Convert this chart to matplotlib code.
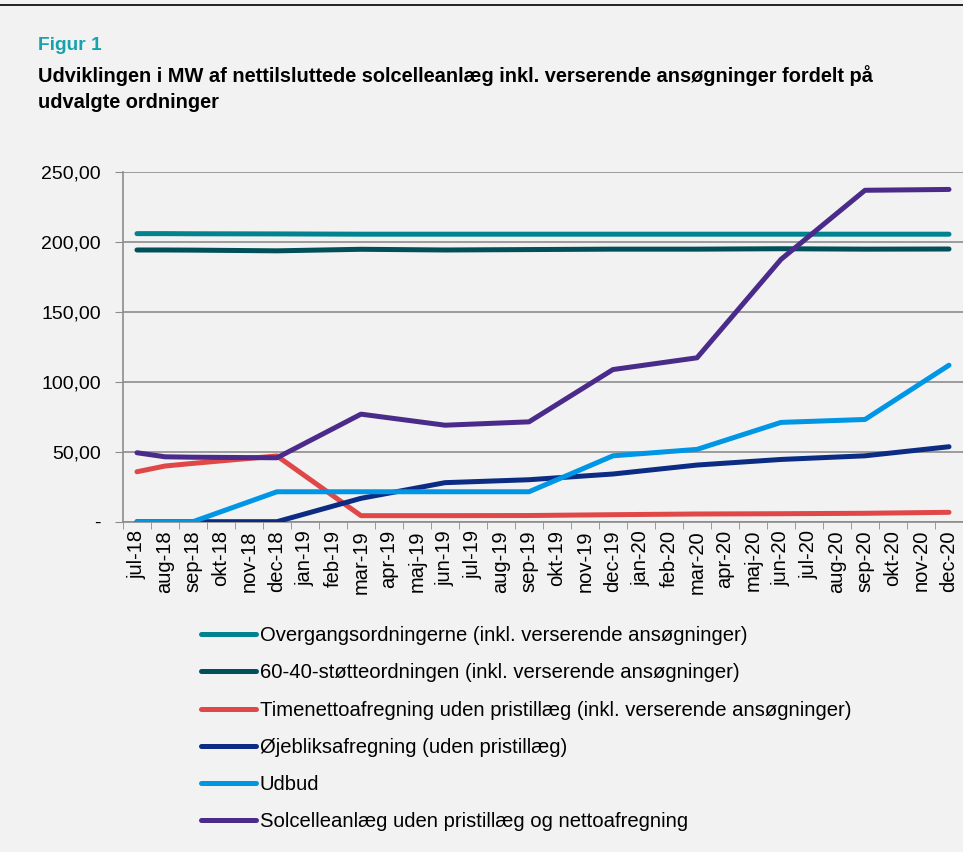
import numpy as np
import matplotlib
matplotlib.use('Agg')
import matplotlib.pyplot as plt

plt.rcParams['font.family'] = ['Liberation Sans', 'DejaVu Sans']

# maaneder
maaneder = ['jul-18', 'aug-18', 'sep-18', 'okt-18', 'nov-18', 'dec-18',
            'jan-19', 'feb-19', 'mar-19', 'apr-19', 'maj-19', 'jun-19',
            'jul-19', 'aug-19', 'sep-19', 'okt-19', 'nov-19', 'dec-19',
            'jan-20', 'feb-20', 'mar-20', 'apr-20', 'maj-20', 'jun-20',
            'jul-20', 'aug-20', 'sep-20', 'okt-20', 'nov-20', 'dec-20']

# maaneder med data (indeks i listen ovenfor)
maaned_idx = [0, 1, 2, 5, 8, 11, 14, 17, 20, 23, 26, 29]

overgang = [206.0, 206.0, 205.9, 205.8, 205.6, 205.6, 205.6, 205.6, 205.6, 205.6, 205.6, 205.6]
stoette_60_40 = [194.3, 194.3, 194.2, 193.7, 194.8, 194.3, 194.6, 194.9, 194.9, 195.2, 194.9, 195.0]
timenetto = [35.7, 39.8, 41.7, 47.0, 4.3, 4.3, 4.4, 5.0, 5.5, 5.7, 6.0, 6.7]
oejebliks = [0.0, 0.0, 0.0, 0.0, 16.7, 27.9, 30.0, 34.1, 40.5, 44.5, 47.1, 53.6]
udbud = [0.0, 0.0, 0.0, 21.4, 21.4, 21.4, 21.4, 47.1, 51.7, 71.0, 73.1, 111.9]
solcelle = [49.3, 46.4, 46.1, 45.7, 76.9, 69.0, 71.4, 108.8, 117.2, 187.6, 237.0, 237.6]

serier = ['Overgangsordningerne (inkl. verserende ansøgninger)',
          '60-40-støtteordningen (inkl. verserende ansøgninger)',
          'Timenettoafregning uden pristillæg (inkl. verserende ansøgninger)',
          'Øjebliksafregning (uden pristillæg)',
          'Udbud',
          'Solcelleanlæg uden pristillæg og nettoafregning']
farver = ['#00838f', '#004f59', '#e04848', '#0c2c84', '#0096e6', '#4b2b8a']

yticks = [0, 50, 100, 150, 200, 250]
ylabels = ['-', '50,00', '100,00', '150,00', '200,00', '250,00']

bg = '#f2f2f2'
fig = plt.figure(figsize=(9.63, 8.52), dpi=100, facecolor=bg)
ax = fig.add_axes([0.1277, 0.3877, 0.8723, 0.4103])
ax.set_facecolor(bg)

# linje i toppen
fig.add_artist(plt.Line2D([0, 1], [1 - 5 / 852, 1 - 5 / 852], color='black', lw=1.2))

fig.text(38 / 963, 1 - 46 / 852, 'Figur 1', color='#17a2ad', fontsize=13.8,
         fontweight='bold', va='center')
fig.text(38 / 963, 1 - 76 / 852,
         'Udviklingen i MW af nettilsluttede solcelleanlæg inkl. verserende ansøgninger fordelt på',
         fontsize=14.4, fontweight='bold', va='center')
fig.text(38 / 963, 1 - 102 / 852, 'udvalgte ordninger', fontsize=14.4,
         fontweight='bold', va='center')

x = np.array(maaned_idx)
data = [overgang, stoette_60_40, timenetto, oejebliks, udbud, solcelle]
for i in range(len(data)):
    ax.plot(x, data[i], color=farver[i], lw=3.6, solid_capstyle='round',
            solid_joinstyle='round', label=serier[i], zorder=3)

ax.set_xlim(-0.5, len(maaneder) - 0.5)
ax.set_ylim(0, 250)
ax.set_yticks(yticks)
ax.set_yticklabels(ylabels, fontsize=14)
ax.set_xticks(range(len(maaneder)))
ax.set_xticklabels(maaneder, rotation=90, fontsize=14.5)
ax.set_xticks(np.arange(-0.5, len(maaneder)), minor=True)
ax.tick_params(axis='x', which='major', length=0, pad=6)
ax.tick_params(axis='x', which='minor', length=5, color='#8c8c8c', direction='out')
ax.tick_params(axis='y', length=6, color='#8c8c8c', pad=10)

ax.grid(axis='y', color='#8c8c8c', lw=1.2, zorder=0)
for s in ['top', 'right']:
    ax.spines[s].set_visible(False)
for s in ['left', 'bottom']:
    ax.spines[s].set_color('#8c8c8c')
    ax.spines[s].set_linewidth(1.2)

fig.legend(loc='upper left', bbox_to_anchor=(193 / 963, 1 - 618 / 852),
           frameon=False, fontsize=14.6, handlelength=2.7, handletextpad=0.2,
           labelspacing=0.9, borderaxespad=0)

fig.savefig('out.png', dpi=100, facecolor=bg)
